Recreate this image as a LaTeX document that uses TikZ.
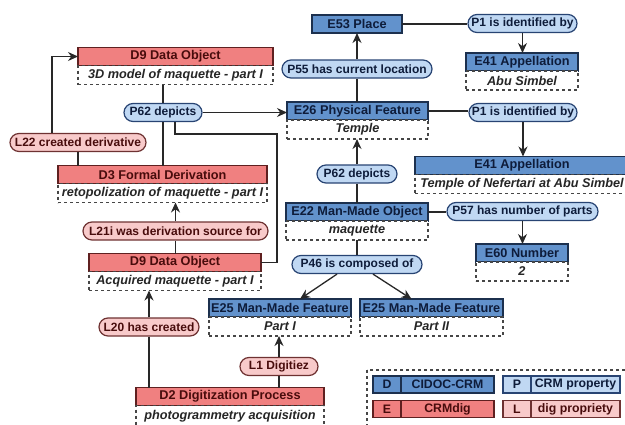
\documentclass[tikz,border=0pt]{standalone}
\usepackage{fontspec}
\setsansfont{Liberation Sans}
\usetikzlibrary{arrows.meta, positioning}

\definecolor{crmfill}{RGB}{98,146,204}
\definecolor{crmline}{RGB}{28,48,78}
\definecolor{crmtext}{RGB}{14,28,58}
\definecolor{digfill}{RGB}{240,128,128}
\definecolor{digline}{RGB}{95,32,32}
\definecolor{digtext}{RGB}{72,12,12}
\definecolor{propfill}{RGB}{192,216,243}
\definecolor{propline}{RGB}{40,68,115}
\definecolor{lpfill}{RGB}{248,202,202}
\definecolor{lpline}{RGB}{110,50,50}
\definecolor{wire}{RGB}{40,40,40}
\definecolor{subline}{RGB}{70,70,70}

\tikzset{
  hd/.style={draw, line width=1.2pt, inner sep=0pt, outer sep=0pt, minimum height=18,
    font=\sffamily\bfseries\fontsize{12.7}{14}\selectfont},
  crmhd/.style={hd, fill=crmfill, draw=crmline, text=crmtext},
  dighd/.style={hd, fill=digfill, draw=digline, text=digtext},
  val/.style={draw=subline, dashed, line width=1.1pt, fill=white, inner sep=0pt, outer sep=0pt,
    minimum height=19, text=black!85, font=\sffamily\bfseries\itshape\fontsize{12.7}{14}\selectfont},
  prop/.style={draw, rounded corners=9pt, line width=1.2pt, inner sep=0pt, minimum height=18,
    font=\sffamily\bfseries\fontsize{12}{13}\selectfont},
  crmprop/.style={prop, fill=propfill, draw=propline, text=crmtext},
  digprop/.style={prop, fill=lpfill, draw=lpline, text=digtext},
  link/.style={draw=wire, line width=1.3pt},
  arr/.style={link, -{Stealth[length=10pt,width=9pt]}},
  legcell/.style={draw, line width=1.2pt, inner sep=0pt, outer sep=0pt, minimum height=17,
    minimum width=28, font=\sffamily\bfseries\fontsize{12.3}{14}\selectfont}
}

\begin{document}
\begin{tikzpicture}[x=1pt, y=-1pt]
\useasboundingbox (0,0) rectangle (625,424);

% CRMdig entities
\node[dighd, minimum width=195] (d9m) at (175.5,56.5) {D9 Data Object};
\node[val, minimum width=195, below=0pt of d9m] (d9mv) {3D model of maquette - part I};
\node[dighd, minimum width=209] (d3) at (162.5,174.5) {D3 Formal Derivation};
\node[val, minimum width=209, below=0pt of d3] (d3v) {retopolization of maquette - part I};
\node[dighd, minimum width=172] (d9a) at (175,262.5) {D9 Data Object};
\node[val, minimum width=172, below=0pt of d9a] (d9av) {Acquired maquette - part I};
\node[dighd, minimum width=188] (d2) at (230,396.5) {D2 Digitization Process};
\node[val, minimum width=188, minimum height=22, below=0pt of d2] (d2v) {photogrammetry acquisition};

% CIDOC-CRM entities
\node[crmhd, minimum width=90] (e53) at (357,24) {E53 Place};
\node[crmhd, minimum width=112] (e41a) at (522,62) {E41 Appellation};
\node[val, minimum width=112, below=0pt of e41a] (e41av) {Abu Simbel};
\node[crmhd, minimum width=141] (e26) at (357.5,111) {E26 Physical Feature};
\node[val, minimum width=141, below=0pt of e26] (e26v) {Temple};
\node[crmhd, minimum width=214] (e41b) at (522,165.5) {E41 Appellation};
\node[val, minimum width=214, below=0pt of e41b] (e41bv) {Temple of Nefertari at Abu Simbel};
\node[crmhd, minimum width=142] (e22) at (357,212) {E22 Man-Made Object};
\node[val, minimum width=142, below=0pt of e22] (e22v) {maquette};
\node[crmhd, minimum width=92] (e60) at (522,253) {E60 Number};
\node[val, minimum width=92, below=0pt of e60] (e60v) {2};
\node[crmhd, minimum width=142] (e25a) at (280,308) {E25 Man-Made Feature};
\node[val, minimum width=142, below=0pt of e25a] (e25av) {Part I};
\node[crmhd, minimum width=143] (e25b) at (431.5,308) {E25 Man-Made Feature};
\node[val, minimum width=143, below=0pt of e25b] (e25bv) {Part II};

% properties
\node[crmprop, minimum width=109] (p1a) at (522.5,23.5) {P1 is identified by};
\node[crmprop, minimum width=150] (p55) at (357,69) {P55 has current location};
\node[crmprop, minimum width=78] (p62a) at (163,112.5) {P62 depicts};
\node[crmprop, minimum width=108] (p1b) at (523,112.5) {P1 is identified by};
\node[crmprop, minimum width=80] (p62b) at (357,174) {P62 depicts};
\node[crmprop, minimum width=151] (p57) at (522.5,211.5) {P57 has number of parts};
\node[crmprop, minimum width=130] (p46) at (357,264.5) {P46 is composed of};
\node[digprop, minimum width=136] (l22) at (78,142.5) {L22 created derivative};
\node[digprop, minimum width=185] (l21i) at (175.5,231) {L21i was derivation source for};
\node[digprop, minimum width=100] (l20) at (149,327) {L20 has created};
\node[digprop, minimum width=78] (l1) at (279,366.5) {L1 Digitiez};

% connectors
\draw[link] (e53.east) -- (e53.east -| p1a.west);
\draw[arr] (p1a.south) -- (p1a.south |- e41a.north);
\draw[link] (p55.south) -- (p55.south |- e26.north);
\draw[arr] (p55.north) -- (p55.north |- e53.south);
\draw[link] (e26.east) -- (e26.east -| p1b.west);
\draw[arr] (p1b.south) -- (p1b.south |- e41b.north);
\draw[arr] (p62a.east) -- (p62a.east -| e26.west);
\draw[link] (p62a.north) -- (p62a.north |- d9mv.south);
\draw[link] (p62a.south) -- (p62a.south |- d3.north);
\coordinate (bend) at (277,134);
\draw[link] ([xshift=12pt]p62a.south) |- (bend) |- (d9a.east);
\draw[arr] ([xshift=-26pt]l22.north) |- (d9m.west);
\draw[link] (l22.south) -- (l22.south |- d3.north);
\draw[arr] (l21i.north) -- (l21i.north |- d3v.south);
\draw[link] (l21i.south) -- (l21i.south |- d9a.north);
\draw[link] (l20.south) -- (l20.south |- d2.north);
\draw[arr] (l20.north) -- (l20.north |- d9av.south);
\draw[link] (l1.south) -- (l1.south |- d2.north);
\draw[arr] (l1.north) -- (l1.north |- e25av.south);
\draw[link] (p62b.south) -- (p62b.south |- e22.north);
\draw[arr] (p62b.north) -- (p62b.north |- e26v.south);
\draw[link] (e22.east) -- (e22.east -| p57.west);
\draw[arr] (p57.south) -- (p57.south |- e60.north);
\draw[link] (e22v.south) -- (e22v.south |- p46.north);
\draw[arr] ([xshift=-20pt]p46.south) -- ([xshift=20pt]e25a.north);
\draw[arr] ([xshift=16pt]p46.south) -- ([xshift=-20pt]e25b.north);

% legend
\draw[draw=subline, dashed, line width=1.1pt] (367,370) rectangle (632,432);
\foreach \k/\t/\x/\y/\w/\f/\d/\c in {D/CIDOC-CRM/373/384.5/93/crmfill/crmline/crmtext,
    E/CRMdig/373/409/93/digfill/digline/digtext,
    P/CRM property/503/384.5/89/propfill/propline/crmtext,
    L/dig propriety/503/409/89/lpfill/lpline/digtext} {
  \node[legcell, fill=\f, draw=\d, text=\c, anchor=west] (leg\k) at (\x,\y) {\k};
  \node[legcell, fill=\f, draw=\d, text=\c, minimum width=\w, anchor=west] (leg\k-t) at (leg\k.east) {\t};
}
\end{tikzpicture}
\end{document}
